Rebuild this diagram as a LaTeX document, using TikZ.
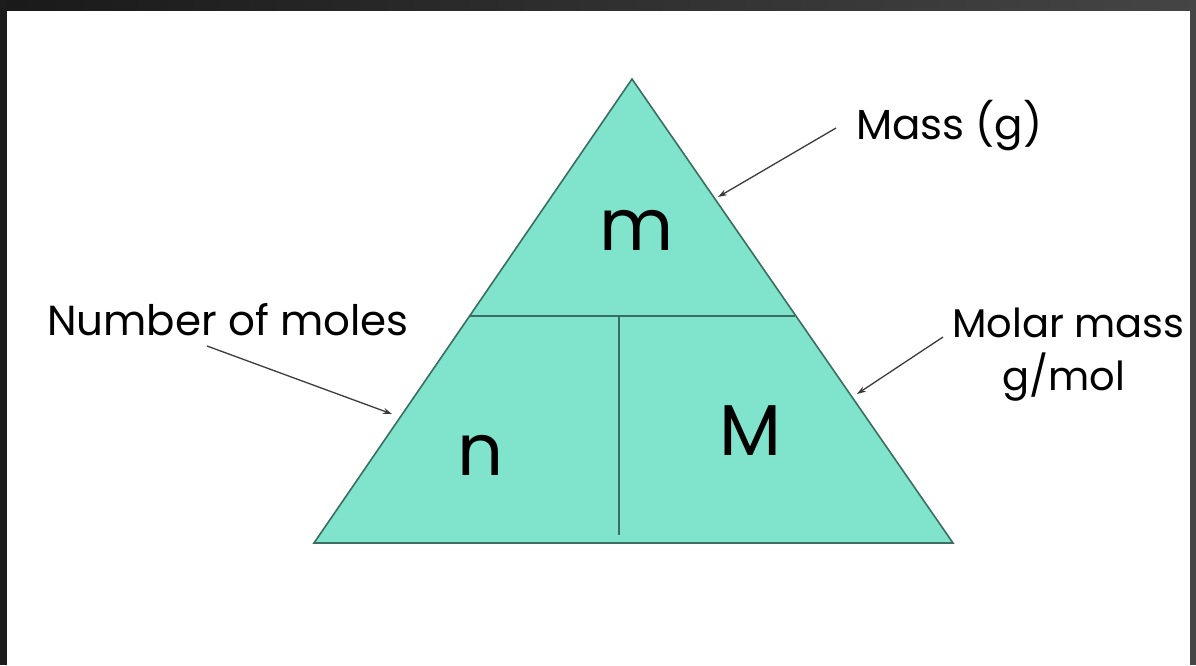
\documentclass[tikz,border=0pt]{standalone}
\usepackage{fontspec}
\setmainfont{Poppins}
\usetikzlibrary{arrows.meta}
\definecolor{tri}{HTML}{80E3CB}
\definecolor{edge}{HTML}{3A6E62}
\definecolor{arr}{HTML}{3C3C3C}
\tikzset{
  label/.style={font=\fontsize{42}{46}\selectfont, inner sep=0pt, text=black},
  sym/.style={font=\fontsize{72}{76}\selectfont, inner sep=0pt, text=black},
  pointer/.style={draw=arr, line width=1.3pt, -{Stealth[length=9pt,width=6pt]}},
  divider/.style={draw=edge, line width=1.6pt}
}
\begin{document}
\begin{tikzpicture}[x=1pt,y=-1pt]
\useasboundingbox (0,0) rectangle (1196,665);
\fill[white] (0,0) rectangle (1196,665);
% triangle
\coordinate (apex) at (632,79);
\coordinate (bl) at (314,543);
\coordinate (br) at (953,543);
\coordinate (ml) at (469.6,316);
\coordinate (mr) at (795.4,316);
\coordinate (vt) at (619,316);
\coordinate (vb) at (619,535);
\filldraw[fill=tri, draw=edge, line width=1.6pt, line join=miter] (apex) -- (br) -- (bl) -- cycle;
\draw[divider] (ml) -- (mr);
\draw[divider] (vt) -- (vb);
% symbols
\node[sym, anchor=base] (m) at (637,250) {m};
\node[sym, anchor=base] (n) at (481,475) {n};
\node[sym, anchor=base] (M) at (750,455) {M};
% labels
\node[label, anchor=base west] (mass) at (856,139) {Mass (g)};
\node[label, anchor=base west] (moles) at (47,335) {Number of moles};
\node[label, anchor=base west, font=\fontsize{40}{44}\selectfont] (molar) at (952,337) {Molar mass};
\node[label, anchor=base, font=\fontsize{40}{44}\selectfont] (gmol) at (1064,390) {g/mol};
% arrows
\coordinate (massS) at (836,128);
\coordinate (massT) at (718,197);
\coordinate (molesS) at (207,346);
\coordinate (molesT) at (392,414);
\coordinate (molarS) at (943,337);
\coordinate (molarT) at (857,394);
\draw[pointer] (massS) -- (massT);
\draw[pointer] (molesS) -- (molesT);
\draw[pointer] (molarS) -- (molarT);
% frame
\shade[left color=black!90, right color=black!73] (0,0) rectangle (1196,10);
\fill[black!89] (0,0) rectangle (7,665);
\fill[black!73] (1190,0) rectangle (1196,665);
\end{tikzpicture}
\end{document}
